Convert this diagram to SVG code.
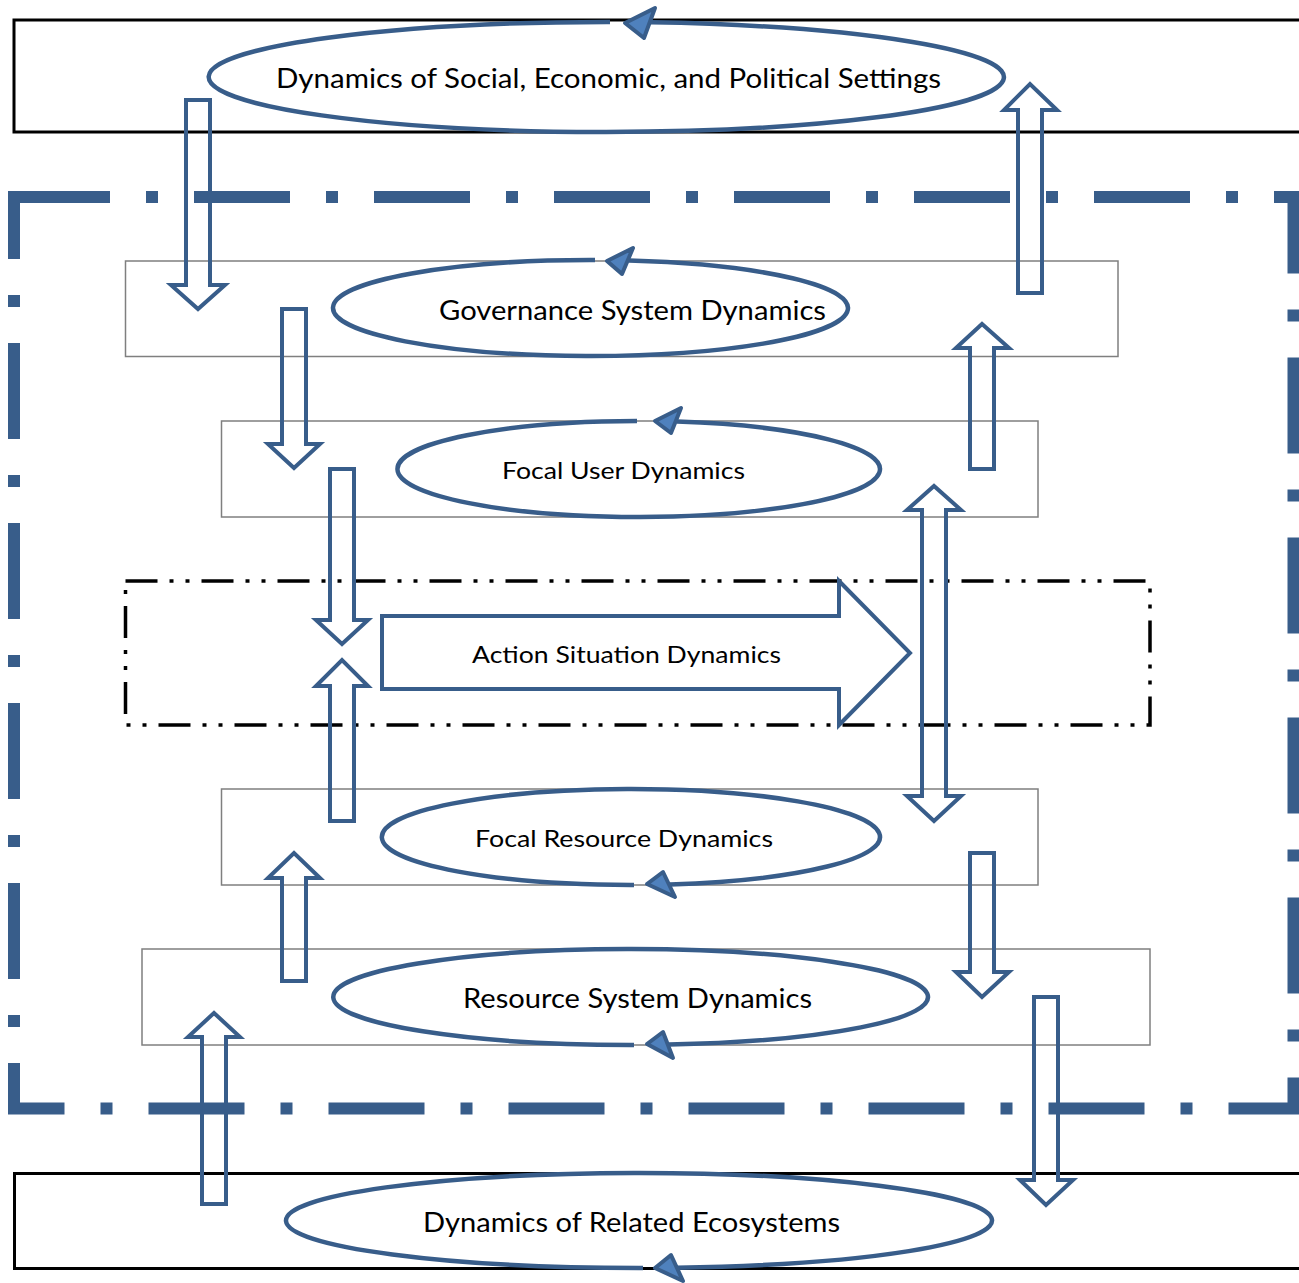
<svg xmlns="http://www.w3.org/2000/svg" width="1299" height="1283" viewBox="0 0 1299 1283">
  <style>
    .frame { fill: none; stroke: #000; stroke-width: 3; }
    .panel { fill: none; stroke: #7f7f7f; stroke-width: 1.5; }
    .boundary { fill: none; stroke: #385d8a; stroke-width: 12; stroke-dasharray: 96 36 12 36; }
    .action-box { fill: none; stroke: #000; stroke-width: 3.5; stroke-dasharray: 32 12 4 12 4 12; }
    .cycle { fill: none; stroke: #385d8a; stroke-width: 4.5; }
    .cycle-head { fill: #4f81bd; stroke: #385d8a; stroke-width: 4; stroke-linejoin: round; }
    .flow { fill: none; stroke: #385d8a; stroke-width: 4; stroke-linejoin: miter; }
    .label { font-family: Lato, "Open Sans", "Liberation Sans", sans-serif; fill: #000; text-anchor: middle; }
  </style>

  <rect width="1299" height="1283" fill="#fff"/>

  <!-- outer settings and ecosystem frames (run past the right edge) -->
  <rect class="frame" x="14" y="20" width="1300" height="112"/>
  <rect class="frame" x="14.5" y="1173.5" width="1300" height="95"/>

  <!-- focal system boundary -->
  <rect class="boundary" x="14" y="197" width="1279.5" height="911.5"/>

  <!-- panels behind each subsystem -->
  <rect class="panel" x="125.5" y="261" width="992.5" height="95.5"/>
  <rect class="panel" x="221.5" y="421" width="816.5" height="96"/>
  <rect class="panel" x="221.5" y="789" width="816.5" height="96"/>
  <rect class="panel" x="142" y="949" width="1008" height="96"/>

  <!-- action situation area -->
  <rect class="action-box" x="125.5" y="581" width="1024.5" height="144"/>

  <!-- connectors -->
  <g id="connectors">
    <path class="flow" d="M186 100 H210 V285 H225 L198 309 L171 285 H186 Z"/>
    <path class="flow" d="M1018 293 H1042 V110 H1057 L1030 84 L1004 110 H1018 Z"/>
    <path class="flow" d="M282 309 H306 V444 H320 L294 468 L268 444 H282 Z"/>
    <path class="flow" d="M970 469 H994 V348 H1009 L982 324 L956 348 H970 Z"/>
    <path class="flow" d="M330 469 H354 V620 H368 L342 644 L316 620 H330 Z"/>
    <path class="flow" d="M330 821 H354 V686 H368 L342 660 L316 686 H330 Z"/>
    <path class="flow" d="M922 510 H907 L934 486 L961 510 H946 V796 H961 L934 821 L907 796 H922 Z"/>
    <path class="flow" d="M282 981 H306 V878 H320 L294 853 L268 878 H282 Z"/>
    <path class="flow" d="M970 853 H994 V972 H1009 L982 997 L956 972 H970 Z"/>
    <path class="flow" d="M202 1204 H226 V1037 H240 L214 1013 L188 1037 H202 Z"/>
    <path class="flow" d="M1034 997 H1058 V1180 H1073 L1046 1205 L1020 1180 H1034 Z"/>
  </g>

  <!-- cycles: half-ellipse to the opposite point, then on to the arrowhead -->
  <g id="settings">
    <path class="cycle" d="M610 22.004 A398.5 55 0 0 0 601 131.996 A398.5 55 0 0 0 651 22.36"/>
    <polygon class="cycle-head" points="625,23 655,8 644,38"/>
    <text class="label" x="608.5" y="88" font-size="26" textLength="665" lengthAdjust="spacingAndGlyphs">Dynamics of Social, Economic, and Political Settings</text>
  </g>

  <g id="governance">
    <path class="cycle" d="M595 260.007 A257.5 48 0 0 0 586 355.993 A257.5 48 0 0 0 629 260.54"/>
    <polygon class="cycle-head" points="607,261 633,248 622,274"/>
    <text class="label" x="632.5" y="320" font-size="27" textLength="387" lengthAdjust="spacingAndGlyphs">Governance System Dynamics</text>
  </g>

  <g id="focal-user">
    <path class="cycle" d="M637 421.001 A241.5 48 0 0 0 640 516.999 A241.5 48 0 0 0 677 421.614"/>
    <polygon class="cycle-head" points="655,421 681,408 671,433"/>
    <text class="label" x="623.5" y="479" font-size="24" textLength="243" lengthAdjust="spacingAndGlyphs">Focal User Dynamics</text>
  </g>

  <g id="action-situation">
    <path class="flow" d="M382 616 H839 V581 L910 653 L839 725 V689 H382 Z"/>
    <text class="label" x="626.5" y="663" font-size="24" textLength="309" lengthAdjust="spacingAndGlyphs">Action Situation Dynamics</text>
  </g>

  <g id="focal-resource">
    <path class="cycle" d="M634 884.995 A249.5 48 0 0 1 627 789.005 A249.5 48 0 0 1 670 884.395"/>
    <polygon class="cycle-head" points="647,884 663,872 675,897"/>
    <text class="label" x="624" y="847" font-size="24" textLength="298" lengthAdjust="spacingAndGlyphs">Focal Resource Dynamics</text>
  </g>

  <g id="resource-system">
    <path class="cycle" d="M634 1044.997 A297.5 48 0 0 1 627 949.003 A297.5 48 0 0 1 669 1044.596"/>
    <polygon class="cycle-head" points="647,1044 663,1032 673,1058"/>
    <text class="label" x="637.5" y="1008" font-size="26" textLength="349" lengthAdjust="spacingAndGlyphs">Resource System Dynamics</text>
  </g>

  <g id="related-ecosystems">
    <path class="cycle" d="M643 1267.996 A353.5 47.5 0 0 1 634 1173.004 A353.5 47.5 0 0 1 677 1267.718"/>
    <polygon class="cycle-head" points="655,1268 671,1255 683,1281"/>
    <text class="label" x="631.5" y="1232" font-size="26" textLength="417" lengthAdjust="spacingAndGlyphs">Dynamics of Related Ecosystems</text>
  </g>
</svg>
